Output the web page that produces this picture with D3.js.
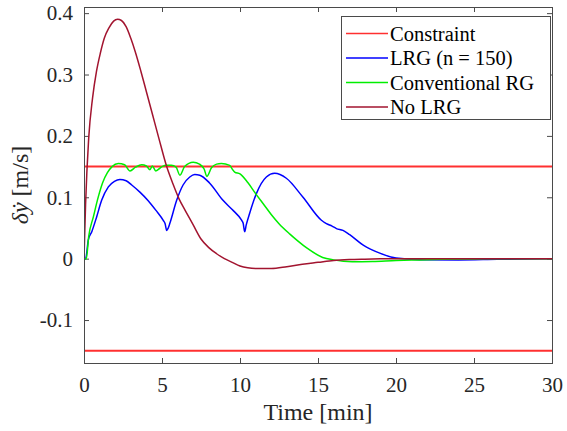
<!DOCTYPE html>
<html>
<head>
<meta charset="utf-8">
<script src="https://cdn.jsdelivr.net/npm/d3@7"></script>
<style>
  body { margin: 0; background: #fff; }
  svg, svg text { font-family: 'Liberation Serif', 'Times New Roman', Times, 'DejaVu Serif', serif !important; }
</style>
</head>
<body>
<svg id="chart" width="567" height="431"></svg>
<script>
// values (time in minutes, velocity in m/s)
var constraintLevel = 0.15;

var tLRG = [0, 0.1, 0.28, 0.5, 0.81, 1.13, 1.56, 1.95, 2.3, 2.7, 3.06, 3.6, 4.13, 4.6, 5.09, 5.2, 5.3, 5.4, 5.51, 5.94, 6.35, 6.78, 7.1, 7.42, 8.06, 8.91, 9.5, 10.09, 10.2, 10.3, 10.4, 10.62, 11.05, 11.69, 12.22, 12.97, 14.04, 15.2, 15.54, 15.9, 16.18, 16.6, 17.03, 17.9, 18.96, 20, 21.5, 24, 26.5, 30];
var yLRG = [0, 0, 0.031, 0.044, 0.068, 0.095, 0.117, 0.126, 0.129, 0.127, 0.12, 0.108, 0.094, 0.079, 0.062, 0.057, 0.046, 0.05, 0.058, 0.095, 0.12, 0.133, 0.137, 0.136, 0.123, 0.095, 0.08, 0.063, 0.058, 0.044, 0.055, 0.074, 0.106, 0.133, 0.139, 0.131, 0.1, 0.063, 0.057, 0.053, 0.049, 0.046, 0.039, 0.022, 0.009, 0.001, -0.0016, -0.002, -0.001, 0];

var tRG = [0, 0.15, 0.3, 0.6, 0.92, 1.2, 1.5, 1.8, 2.2, 2.6, 2.95, 3.3, 3.7, 4.0, 4.23, 4.38, 4.6, 5.0, 5.3, 5.6, 5.9, 6.15, 6.45, 7.0, 7.4, 7.7, 7.88, 8.17, 8.5, 8.8, 9.34, 9.5, 9.66, 10.0, 10.5, 11.0, 11.5, 12.0, 12.5, 13.2, 13.7, 14.3, 15.3, 16.0, 17.2, 18.5, 20, 21.5, 23, 25, 27, 30];
var yRG = [0, 0, 0.036, 0.068, 0.101, 0.124, 0.14, 0.15, 0.155, 0.153, 0.143, 0.149, 0.153, 0.151, 0.145, 0.151, 0.143, 0.15, 0.152, 0.152, 0.149, 0.136, 0.15, 0.157, 0.154, 0.146, 0.134, 0.148, 0.154, 0.155, 0.152, 0.146, 0.141, 0.138, 0.124, 0.106, 0.089, 0.072, 0.057, 0.04, 0.029, 0.017, 0.002, -0.002, -0.005, -0.0045, -0.003, -0.002, -0.001, -0.0005, 0, 0];

var tNoLRG = [0, 0.1, 0.3, 0.55, 0.8, 1.05, 1.3, 1.6, 1.9, 2.15, 2.4, 2.7, 3.0, 3.3, 3.65, 4.0, 4.4, 4.8, 5.3, 5.7, 6.1, 6.5, 7.0, 7.5, 8.0, 8.5, 9.0, 9.5, 10.0, 10.5, 11.0, 12.0, 13.0, 14.0, 15.0, 16.0, 17.0, 18.0, 19.0, 20.0, 22, 25, 30];
var yNoLRG = [0, 0.088, 0.196, 0.262, 0.305, 0.335, 0.359, 0.376, 0.387, 0.39, 0.388, 0.378, 0.359, 0.336, 0.305, 0.272, 0.234, 0.196, 0.15, 0.122, 0.097, 0.078, 0.055, 0.032, 0.018, 0.008, 0.0, -0.006, -0.012, -0.015, -0.016, -0.016, -0.013, -0.009, -0.006, -0.003, -0.0015, -0.0008, -0.0003, 0, 0, 0, 0];

var xTicks = [0, 5, 10, 15, 20, 25, 30];
var yTicks = [-0.1, 0, 0.1, 0.2, 0.3, 0.4];
var yTickLabels = ["-0.1", "0", "0.1", "0.2", "0.3", "0.4"];

var seriesNames = ["Constraint", "LRG (n = 150)", "Conventional RG", "No LRG"];
var seriesColors = ["#ff3030", "#0000ff", "#00ee00", "#a2142f"];

var FONT = "'Liberation Serif', 'Times New Roman', Times, 'DejaVu Serif', serif";
var AXIS_COLOR = "#4a4a4a";

var svg = d3.select("svg").attr("font-family", FONT),
    margin = { top: 7, right: 15, bottom: 68, left: 84 },
    width = +svg.attr("width") - margin.left - margin.right,
    height = +svg.attr("height") - margin.top - margin.bottom,
    g = svg.append("g").attr("transform", "translate(" + margin.left + "," + margin.top + ")");

var x = d3.scaleLinear().domain([0, 30]).range([0, width]);
var y = d3.scaleLinear().domain([-0.17, 0.41]).range([height, 0]);

var fmt = function (d) { return yTickLabels[yTicks.indexOf(d)]; };

function styleAxis(sel) {
    sel.attr("font-family", FONT);
    sel.select(".domain").remove();
    sel.selectAll(".tick line").attr("stroke", AXIS_COLOR);
    sel.selectAll(".tick text").attr("fill", "#262626").attr("font-size", 21);
}

g.append("g")
    .attr("transform", "translate(0," + height + ")")
    .call(d3.axisBottom(x).tickValues(xTicks).tickSize(-5).tickPadding(14))
    .call(styleAxis);
g.append("g")
    .call(d3.axisTop(x).tickValues(xTicks).tickSize(-5).tickFormat(""))
    .call(styleAxis);
g.append("g")
    .call(d3.axisLeft(y).tickValues(yTicks).tickSize(-5).tickPadding(11).tickFormat(fmt))
    .call(styleAxis);
g.append("g")
    .attr("transform", "translate(" + width + ",0)")
    .call(d3.axisRight(y).tickValues(yTicks).tickSize(-5).tickFormat(""))
    .call(styleAxis);

// clip curves to plot area
svg.append("defs").append("clipPath").attr("id", "clip")
    .append("rect").attr("width", width).attr("height", height);
var plot = g.append("g").attr("clip-path", "url(#clip)");

// constraint lines
[constraintLevel, -constraintLevel].forEach(function (c) {
    plot.append("line")
        .attr("x1", x(0)).attr("x2", x(30))
        .attr("y1", y(c)).attr("y2", y(c))
        .attr("stroke", seriesColors[0])
        .attr("stroke-width", 2);
});

var line = d3.line()
    .x(function (d) { return x(d[0]); })
    .y(function (d) { return y(d[1]); })
    .curve(d3.curveMonotoneX);

var series = [
    { t: tLRG, v: yLRG, color: seriesColors[1] },
    { t: tRG, v: yRG, color: seriesColors[2] },
    { t: tNoLRG, v: yNoLRG, color: seriesColors[3] }
];

series.forEach(function (s) {
    plot.append("path")
        .datum(d3.zip(s.t, s.v))
        .attr("fill", "none")
        .attr("stroke", s.color)
        .attr("stroke-width", 1.5)
        .attr("d", line);
});

// box
g.append("rect")
    .attr("x", 0.5).attr("y", 0.5)
    .attr("width", width).attr("height", height)
    .attr("fill", "none")
    .attr("stroke", AXIS_COLOR)
    .attr("stroke-width", 1);

// axis labels
svg.append("text")
    .attr("x", margin.left + width / 2)
    .attr("y", 420)
    .attr("text-anchor", "middle")
    .attr("font-size", 24)
    .attr("fill", "#262626")
    .text("Time [min]");

var ylab = svg.append("text")
    .attr("transform", "translate(28," + (margin.top + height / 2) + ") rotate(-90)")
    .attr("text-anchor", "middle")
    .attr("font-size", 24)
    .attr("fill", "#262626");
ylab.append("tspan").attr("font-style", "italic").text("δẏ");
ylab.append("tspan").text("  [m/s]");

// legend
var lg = svg.append("g").attr("transform", "translate(341,16)");
lg.append("rect")
    .attr("x", 0.5).attr("y", 0.5)
    .attr("width", 209).attr("height", 103)
    .attr("fill", "#fff")
    .attr("stroke", AXIS_COLOR)
    .attr("stroke-width", 1);

var rows = lg.selectAll(".row")
    .data(seriesNames)
    .enter().append("g")
    .attr("class", "row")
    .attr("transform", function (d, i) { return "translate(0," + (17.5 + i * 24.5) + ")"; });

rows.append("line")
    .attr("x1", 5).attr("x2", 47)
    .attr("stroke", function (d, i) { return seriesColors[i]; })
    .attr("stroke-width", 1.5);

rows.append("text")
    .attr("x", 49)
    .attr("dy", "0.35em")
    .attr("font-size", 20.5)
    .attr("fill", "#000")
    .text(function (d) { return d; });
</script>
</body>
</html>
